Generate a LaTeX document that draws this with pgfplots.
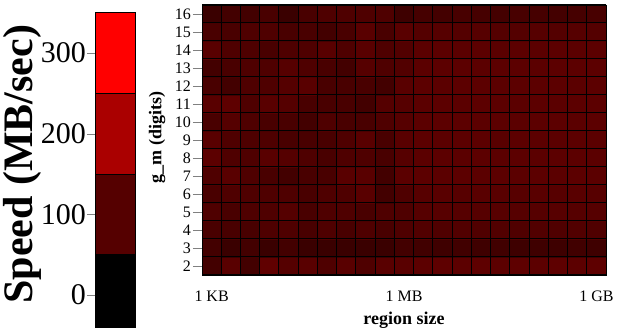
\documentclass[border=0pt]{standalone}
\usepackage{pgfplots}
\pgfplotsset{compat=1.18}
\usepackage{fontspec}
\setmainfont{Liberation Serif}
\definecolor{cb1}{RGB}{85,0,0}
\definecolor{cb2}{RGB}{170,0,0}
\definecolor{cb3}{RGB}{255,0,0}
\begin{document}
\begin{tikzpicture}
\path[use as bounding box, clip] (0pt,0pt) rectangle (621pt,328pt);
% colour bar
\begin{axis}[
  at={(95pt,-7.3pt)}, anchor=south west, scale only axis,
  width=40pt, height=322.7pt,
  xmin=0, xmax=1, ymin=-50, ymax=350,
  xtick=\empty, ytick={0,100,200,300}, ytick pos=left,
  tick align=outside, major tick length=8pt,
  /pgf/number format/assume math mode=true,
  yticklabel style={font=\fontsize{30}{30}\selectfont, inner sep=1pt},
  every axis y label/.style={at={(rel axis cs:-1.825,0.53)}, rotate=90, anchor=center, inner sep=0pt},
  ylabel={\fontsize{42}{42}\selectfont\bfseries Speed (MB/sec)},
  axis line style={black, line width=0.6pt},
  axis on top,
]
\addplot[fill=black, draw=black] coordinates {(0,-50) (1,-50) (1,50) (0,50)} -- cycle;
\addplot[fill=cb1, draw=black] coordinates {(0,50) (1,50) (1,150) (0,150)} -- cycle;
\addplot[fill=cb2, draw=black] coordinates {(0,150) (1,150) (1,250) (0,250)} -- cycle;
\addplot[fill=cb3, draw=black] coordinates {(0,250) (1,250) (1,350) (0,350)} -- cycle;
\end{axis}
% heat map
\begin{axis}[
  at={(202pt,53pt)}, anchor=south west, scale only axis,
  width=404pt, height=270pt,
  xmin=9.5, xmax=30.5, ymin=1.5, ymax=16.5,
  xtick={10,20,30}, xticklabels={1 KB,1 MB,1 GB},
  ytick={2,3,...,16},
  tick align=outside, major tick length=9pt,
  xtick style={draw=none}, ytick pos=left,
  axis on top,
  /pgf/number format/assume math mode=true,
  tick label style={font=\fontsize{16}{16}\selectfont},
  yticklabel style={inner sep=2pt},
  xticklabel style={anchor=center, yshift=-12pt},
  every axis x label/.style={at={(rel axis cs:0.5,-0.167)}, anchor=center},
  every axis y label/.style={at={(rel axis cs:-0.111,0.51)}, rotate=90, anchor=center},
  xlabel={\fontsize{18}{18}\selectfont\bfseries region size},
  ylabel={\fontsize{18}{18}\selectfont\bfseries g\_m (digits)},
  colormap={speed}{rgb255(0)=(0,0,0); rgb255(300)=(255,0,0)},
  point meta min=0, point meta max=300,
  axis line style={black, line width=0.6pt},
]
\addplot[matrix plot*, mesh/cols=21, point meta=explicit] coordinates {
(10,2)[78] (11,2)[104] (12,2)[78] (13,2)[112] (14,2)[99] (15,2)[104] (16,2)[92] (17,2)[104] (18,2)[92] (19,2)[104] (20,2)[104] (21,2)[108] (22,2)[110] (23,2)[108] (24,2)[110] (25,2)[108] (26,2)[110] (27,2)[108] (28,2)[110] (29,2)[108] (30,2)[110]

(10,3)[78] (11,3)[68] (12,3)[78] (13,3)[68] (14,3)[78] (15,3)[68] (16,3)[68] (17,3)[68] (18,3)[68] (19,3)[68] (20,3)[78] (21,3)[76] (22,3)[74] (23,3)[76] (24,3)[74] (25,3)[76] (26,3)[72] (27,3)[74] (28,3)[72] (29,3)[76] (30,3)[74]

(10,4)[85] (11,4)[85] (12,4)[85] (13,4)[92] (14,4)[92] (15,4)[85] (16,4)[92] (17,4)[85] (18,4)[92] (19,4)[85] (20,4)[92] (21,4)[96] (22,4)[94] (23,4)[96] (24,4)[94] (25,4)[96] (26,4)[94] (27,4)[96] (28,4)[94] (29,4)[96] (30,4)[94]

(10,5)[92] (11,5)[85] (12,5)[92] (13,5)[92] (14,5)[99] (15,5)[85] (16,5)[92] (17,5)[92] (18,5)[85] (19,5)[92] (20,5)[92] (21,5)[100] (22,5)[102] (23,5)[100] (24,5)[100] (25,5)[102] (26,5)[100] (27,5)[100] (28,5)[102] (29,5)[100] (30,5)[100]

(10,6)[85] (11,6)[92] (12,6)[92] (13,6)[92] (14,6)[92] (15,6)[85] (16,6)[92] (17,6)[92] (18,6)[104] (19,6)[78] (20,6)[92] (21,6)[102] (22,6)[104] (23,6)[102] (24,6)[104] (25,6)[104] (26,6)[102] (27,6)[104] (28,6)[102] (29,6)[104] (30,6)[102]

(10,7)[92] (11,7)[104] (12,7)[92] (13,7)[85] (14,7)[78] (15,7)[85] (16,7)[85] (17,7)[104] (18,7)[104] (19,7)[78] (20,7)[106] (21,7)[108] (22,7)[106] (23,7)[108] (24,7)[106] (25,7)[108] (26,7)[106] (27,7)[108] (28,7)[106] (29,7)[108] (30,7)[106]

(10,8)[108] (11,8)[92] (12,8)[92] (13,8)[104] (14,8)[99] (15,8)[92] (16,8)[85] (17,8)[92] (18,8)[92] (19,8)[85] (20,8)[100] (21,8)[106] (22,8)[108] (23,8)[106] (24,8)[108] (25,8)[106] (26,8)[108] (27,8)[106] (28,8)[108] (29,8)[108] (30,8)[106]

(10,9)[104] (11,9)[92] (12,9)[92] (13,9)[92] (14,9)[85] (15,9)[85] (16,9)[85] (17,9)[92] (18,9)[104] (19,9)[85] (20,9)[104] (21,9)[108] (22,9)[106] (23,9)[108] (24,9)[108] (25,9)[104] (26,9)[108] (27,9)[108] (28,9)[106] (29,9)[108] (30,9)[106]

(10,10)[85] (11,10)[99] (12,10)[92] (13,10)[85] (14,10)[85] (15,10)[78] (16,10)[92] (17,10)[85] (18,10)[85] (19,10)[92] (20,10)[100] (21,10)[106] (22,10)[108] (23,10)[108] (24,10)[106] (25,10)[108] (26,10)[106] (27,10)[108] (28,10)[108] (29,10)[106] (30,10)[108]

(10,11)[104] (11,11)[110] (12,11)[92] (13,11)[104] (14,11)[99] (15,11)[85] (16,11)[85] (17,11)[85] (18,11)[78] (19,11)[99] (20,11)[100] (21,11)[106] (22,11)[108] (23,11)[106] (24,11)[108] (25,11)[108] (26,11)[106] (27,11)[108] (28,11)[106] (29,11)[108] (30,11)[108]

(10,12)[85] (11,12)[78] (12,12)[92] (13,12)[92] (14,12)[99] (15,12)[104] (16,12)[85] (17,12)[85] (18,12)[85] (19,12)[78] (20,12)[104] (21,12)[108] (22,12)[106] (23,12)[108] (24,12)[108] (25,12)[106] (26,12)[108] (27,12)[108] (28,12)[108] (29,12)[106] (30,12)[108]

(10,13)[78] (11,13)[85] (12,13)[92] (13,13)[92] (14,13)[100] (15,13)[92] (16,13)[85] (17,13)[78] (18,13)[100] (19,13)[92] (20,13)[96] (21,13)[106] (22,13)[108] (23,13)[108] (24,13)[106] (25,13)[108] (26,13)[108] (27,13)[106] (28,13)[108] (29,13)[108] (30,13)[108]

(10,14)[104] (11,14)[92] (12,14)[92] (13,14)[85] (14,14)[92] (15,14)[92] (16,14)[104] (17,14)[92] (18,14)[104] (19,14)[92] (20,14)[96] (21,14)[106] (22,14)[108] (23,14)[106] (24,14)[108] (25,14)[106] (26,14)[108] (27,14)[106] (28,14)[108] (29,14)[106] (30,14)[108]

(10,15)[85] (11,15)[85] (12,15)[92] (13,15)[92] (14,15)[85] (15,15)[85] (16,15)[78] (17,15)[85] (18,15)[104] (19,15)[85] (20,15)[104] (21,15)[98] (22,15)[100] (23,15)[98] (24,15)[100] (25,15)[98] (26,15)[98] (27,15)[100] (28,15)[98] (29,15)[100] (30,15)[98]

(10,16)[68] (11,16)[78] (12,16)[78] (13,16)[85] (14,16)[68] (15,16)[85] (16,16)[92] (17,16)[92] (18,16)[92] (19,16)[92] (20,16)[72] (21,16)[82] (22,16)[80] (23,16)[84] (24,16)[82] (25,16)[80] (26,16)[84] (27,16)[82] (28,16)[80] (29,16)[82] (30,16)[84]
};
\pgfplotsinvokeforeach{9.5,10.5,...,30.5}{
  \draw[black, line width=1pt] (axis cs:#1,1.5) -- (axis cs:#1,16.5);
}
\pgfplotsinvokeforeach{1.5,2.5,...,16.5}{
  \draw[black, line width=1pt] (axis cs:9.5,#1) -- (axis cs:30.5,#1);
}
\end{axis}
\end{tikzpicture}
\end{document}
